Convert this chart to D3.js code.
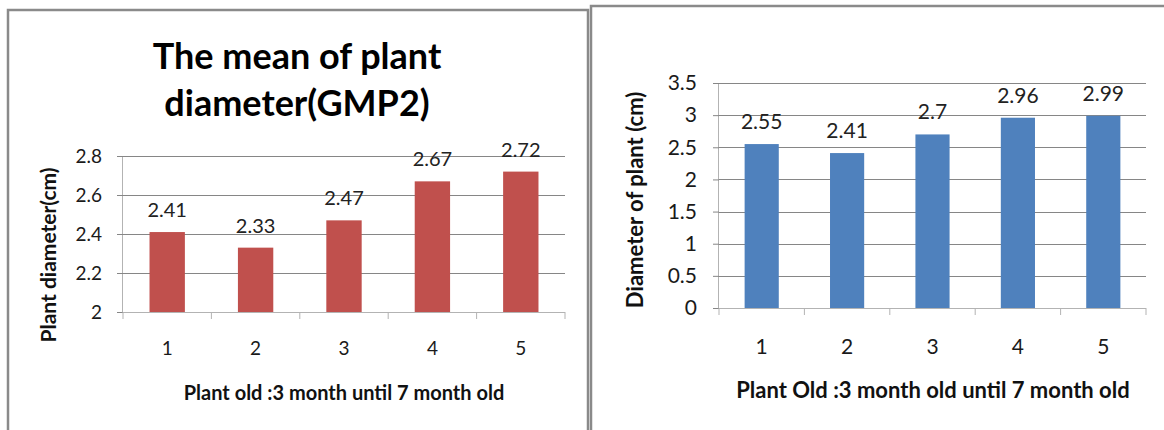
<!DOCTYPE html>
<html>
<head>
<meta charset="utf-8">
<script src="https://cdn.jsdelivr.net/npm/d3@7"></script>
<style>
  body { margin: 0; background: #fff; }
  svg { display: block; font-family: Lato, "Open Sans", sans-serif; }
</style>
</head>
<body>
<svg id="chart" width="1164" height="430"></svg>
<script>
// data
const categories = ["1", "2", "3", "4", "5"];
const gmp2Values = [2.41, 2.33, 2.47, 2.67, 2.72];
const gmp2Ticks = [2, 2.2, 2.4, 2.6, 2.8];
const diameterValues = [2.55, 2.41, 2.7, 2.96, 2.99];
const diameterTicks = [0, 0.5, 1, 1.5, 2, 2.5, 3, 3.5];

const svg = d3.select("#chart");
const gridColor = "#868686";
const axisColor = "#b3b3b3";

// panel frames (the two pasted excel charts)
svg.append("path")
    .attr("d", "M8,432V10H588V432")
    .attr("fill", "none")
    .attr("stroke", "#8a8a8a")
    .attr("stroke-width", 2.5);
svg.append("path")
    .attr("d", "M591,432V6H1166")
    .attr("fill", "none")
    .attr("stroke", "#8a8a8a")
    .attr("stroke-width", 2.5);

function drawPanel(opts) {
    const g = svg.append("g");
    const x = d3.scaleBand().domain(categories).range([opts.x0, opts.x1]);
    const xBar = d3.scaleBand().domain(categories).range([opts.x0, opts.x1])
        .paddingInner(0.6).paddingOuter(0.3);
    const y = d3.scaleLinear().domain(opts.domain).range([opts.y0, opts.y1]);

    // gridlines
    g.append("g")
        .attr("transform", `translate(${opts.x0},0)`)
        .call(d3.axisLeft(y).tickValues(opts.ticks).tickSize(-(opts.x1 - opts.x0)).tickFormat(""))
        .call(a => a.select(".domain").remove())
        .call(a => a.selectAll("line").attr("stroke", gridColor).attr("shape-rendering", "crispEdges"));

    // y axis with labels
    g.append("g")
        .attr("transform", `translate(${opts.x0},0)`)
        .call(d3.axisLeft(y).tickValues(opts.ticks).tickSize(6).tickPadding(opts.tickPad)
            .tickFormat(d3.format("")))
        .call(a => a.select(".domain").attr("stroke", axisColor).attr("d", `M-0.5,${opts.y1}V${opts.y0 + 0.5}`))
        .call(a => a.selectAll("line").attr("stroke", gridColor))
        .call(a => a.selectAll("text").attr("font-size", opts.tickFont).attr("fill", "#1a1a1a")
            .attr("font-family", "Lato, sans-serif"));

    // bars
    g.append("g").selectAll("rect")
        .data(opts.values)
        .join("rect")
        .attr("x", (d, i) => xBar(categories[i]))
        .attr("width", xBar.bandwidth())
        .attr("y", d => y(d))
        .attr("height", d => y(opts.domain[0]) - y(d))
        .attr("fill", opts.color);

    // value labels
    g.append("g").selectAll("text")
        .data(opts.values)
        .join("text")
        .attr("x", (d, i) => x(categories[i]) + x.bandwidth() / 2)
        .attr("y", d => y(d) - 15)
        .attr("text-anchor", "middle")
        .attr("font-size", opts.valueFont)
        .attr("fill", "#222")
        .text((d, i) => opts.labels[i]);

    // x axis: boundary ticks, category labels below
    const bounds = categories.map(c => x(c)).concat([opts.x1]);
    g.append("line")
        .attr("x1", opts.x0).attr("x2", opts.x1)
        .attr("y1", opts.y0 + 0.5).attr("y2", opts.y0 + 0.5)
        .attr("stroke", axisColor);
    g.append("g").selectAll("line")
        .data(bounds)
        .join("line")
        .attr("x1", d => d).attr("x2", d => d)
        .attr("y1", opts.y0).attr("y2", opts.y0 + 7)
        .attr("stroke", axisColor);
    g.append("g").selectAll("text")
        .data(categories)
        .join("text")
        .attr("x", d => x(d) + x.bandwidth() / 2)
        .attr("y", opts.catY)
        .attr("text-anchor", "middle")
        .attr("font-size", opts.tickFont)
        .attr("fill", "#1a1a1a")
        .text(d => d);

    // axis titles
    g.append("text")
        .attr("x", opts.xTitleX)
        .attr("y", opts.xTitleY)
        .attr("text-anchor", "middle")
        .attr("font-size", opts.titleFont)
        .attr("font-weight", "bold")
        .attr("fill", "#111")
        .text(opts.xTitle);
    g.append("text")
        .attr("transform", `translate(${opts.yTitleX},${opts.yTitleY}) rotate(-90)`)
        .attr("text-anchor", "middle")
        .attr("font-size", opts.yTitleFont)
        .attr("font-weight", "bold")
        .attr("fill", "#111")
        .text(opts.yTitle);
    return g;
}

drawPanel({
    x0: 123, x1: 565, y0: 312, y1: 156,
    domain: [2, 2.8], ticks: gmp2Ticks,
    values: gmp2Values, labels: gmp2Values.map(d => d3.format(".2f")(d)),
    color: "#c0504d", tickFont: 19, valueFont: 20, tickPad: 15, catY: 355,
    titleFont: 20, yTitleFont: 21,
    xTitle: "Plant old :3 month until 7 month old", xTitleX: 344, xTitleY: 400,
    yTitle: "Plant diameter(cm)", yTitleX: 56, yTitleY: 255
});

drawPanel({
    x0: 719, x1: 1146, y0: 308, y1: 83,
    domain: [0, 3.5], ticks: diameterTicks,
    values: diameterValues, labels: diameterValues.map(d => d3.format("")(d)),
    color: "#4f81bd", tickFont: 21, valueFont: 21, tickPad: 16, catY: 354,
    titleFont: 22, yTitleFont: 22,
    xTitle: "Plant Old :3 month old until 7 month old", xTitleX: 933, xTitleY: 398,
    yTitle: "Diameter of plant (cm)", yTitleX: 643, yTitleY: 200
});

// title of the left panel
const title = svg.append("text")
    .attr("text-anchor", "middle")
    .attr("font-size", 36)
    .attr("font-weight", "bold")
    .attr("fill", "#000");
title.append("tspan").attr("x", 297).attr("y", 69).text("The mean of plant");
title.append("tspan").attr("x", 297).attr("y", 116).text("diameter(GMP2)");
</script>
</body>
</html>
